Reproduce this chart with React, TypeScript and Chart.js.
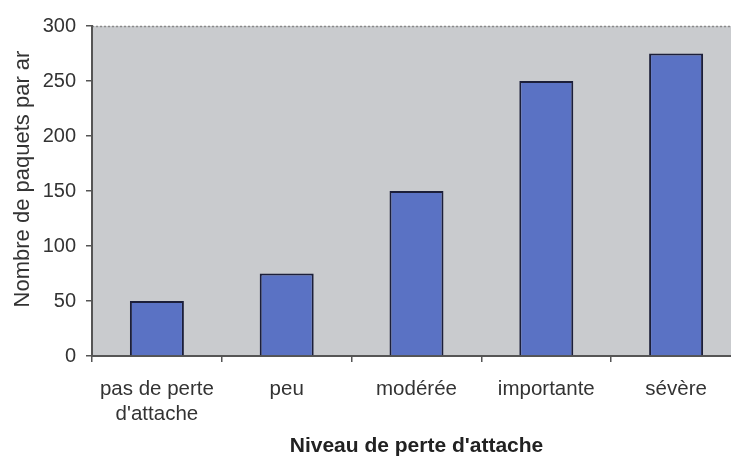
import React, { useEffect, useRef } from "react";
import { Chart, registerables } from "chart.js";

Chart.register(...registerables);

const categories: (string | string[])[] = [
  ["pas de perte", "d'attache"],
  "peu",
  "modérée",
  "importante",
  "sévère",
];
const paquets: number[] = [50, 75, 150, 250, 275];
const yTicks: number[] = [0, 50, 100, 150, 200, 250, 300];
const xTitle = "Niveau de perte d'attache";
const yTitle = "Nombre de paquets par ar";

const FONT = "'Liberation Sans', Arial, Helvetica, sans-serif";

const bgPlugin = {
  id: "plotBg",
  beforeDraw(chart: any) {
    const { ctx, chartArea } = chart;
    const { left, top, right, bottom } = chartArea;
    ctx.save();
    ctx.fillStyle = "#c9cbce";
    ctx.fillRect(left, top, right - left, bottom - top);
    ctx.strokeStyle = "#8a8a8a";
    ctx.lineWidth = 1.5;
    ctx.setLineDash([2, 2]);
    ctx.beginPath();
    ctx.moveTo(left, top + 0.5);
    ctx.lineTo(right, top + 0.5);
    ctx.stroke();
    ctx.restore();
  },
  afterDraw(chart: any) {
    const { ctx } = chart;
    ctx.save();
    ctx.translate(23, 179);
    ctx.rotate(-Math.PI / 2);
    ctx.font = `22px ${FONT}`;
    ctx.fillStyle = "#333333";
    ctx.textAlign = "center";
    ctx.textBaseline = "middle";
    ctx.fillText(yTitle, 0, 0);
    ctx.restore();
  },
};

export default function App() {
  const ref = useRef<HTMLCanvasElement | null>(null);
  useEffect(() => {
    if (!ref.current) return;
    const chart = new Chart(ref.current, {
      type: "bar",
      data: {
        labels: categories,
        datasets: [
          {
            data: paquets,
            backgroundColor: "#5a72c4",
            borderColor: "#1c1f3a",
            borderWidth: 2,
            borderSkipped: "bottom",
            barPercentage: 0.416,
            categoryPercentage: 1,
          },
        ],
      },
      options: {
        responsive: false,
        animation: false,
        devicePixelRatio: 1,
        layout: { padding: { top: 26, left: 0, right: 10, bottom: 0 } },
        plugins: { legend: { display: false }, tooltip: { enabled: false } },
        scales: {
          x: {
            grid: {
              drawOnChartArea: false,
              drawTicks: true,
              tickLength: 6,
              color: "#555555",
              lineWidth: 1.5,
            },
            border: { color: "#555555", width: 2 },
            ticks: {
              color: "#333333",
              font: { family: FONT, size: 20.5, lineHeight: 1.22 },
              padding: 15,
              maxRotation: 0,
              autoSkip: false,
            },
            title: {
              display: true,
              text: xTitle,
              color: "#222222",
              font: { family: FONT, size: 21, weight: "bold", lineHeight: 1.2 },
              padding: { top: 0, bottom: 2 },
            },
            afterFit(scale: any) {
              scale.height = 105;
            },
          },
          y: {
            min: 0,
            max: 300,
            afterBuildTicks(scale: any) {
              scale.ticks = yTicks.map((v) => ({ value: v }));
            },
            grid: {
              drawOnChartArea: false,
              drawTicks: true,
              tickLength: 6,
              color: "#555555",
              lineWidth: 1.5,
            },
            border: { color: "#555555", width: 2 },
            ticks: {
              color: "#333333",
              font: { family: FONT, size: 20 },
              padding: 10,
            },
            afterFit(scale: any) {
              scale.width = 92;
            },
          },
        },
      },
      plugins: [bgPlugin],
    });
    return () => chart.destroy();
  }, []);
  return (
    <div
      style={{
        position: "fixed",
        left: 0,
        top: 0,
        width: 731,
        height: 461,
        overflow: "hidden",
        background: "#ffffff",
      }}
    >
      <canvas ref={ref} width={751} height={461} style={{ display: "block" }} />
    </div>
  );
}
